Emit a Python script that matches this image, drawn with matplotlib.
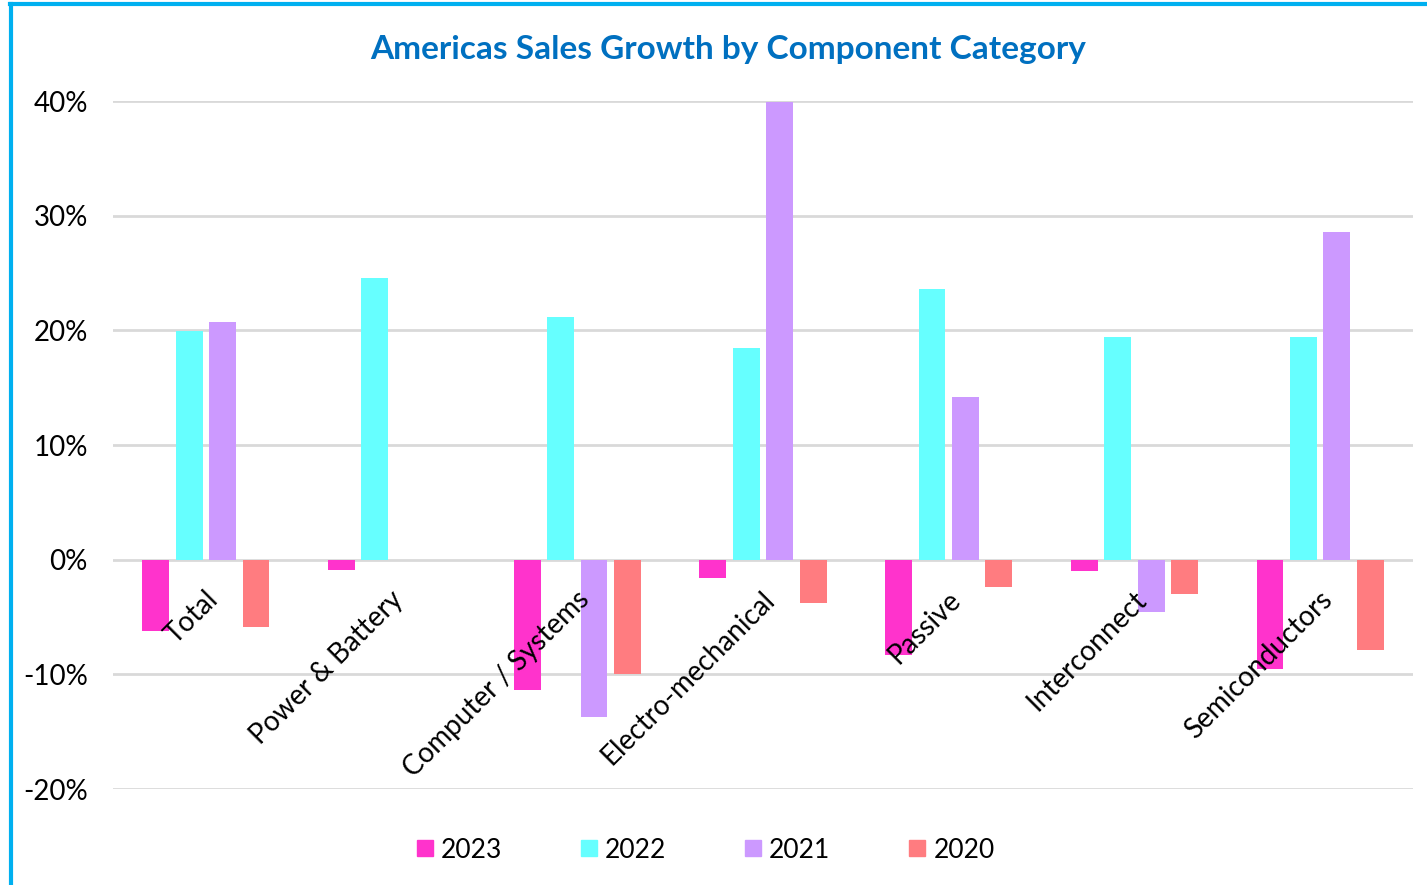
import matplotlib.pyplot as plt
import numpy as np
from matplotlib.lines import Line2D

# data (percent)
categories = ["Total", "Power & Battery", "Computer / Systems", "Electro-mechanical",
              "Passive", "Interconnect", "Semiconductors"]
years = ["2023", "2022", "2021", "2020"]
growth_2023 = [-6.2, -0.9, -11.4, -1.6, -8.3, -1.0, -9.5]
growth_2022 = [19.9, 24.6, 21.2, 18.5, 23.6, 19.4, 19.4]
growth_2021 = [20.7, np.nan, -13.7, 39.9, 14.2, -4.6, 28.6]
growth_2020 = [-5.9, np.nan, -10.0, -3.8, -2.4, -3.0, -7.9]
colors = ["#FF33CC", "#66FFFF", "#CC99FF", "#FF7C80"]

plt.rcParams['font.family'] = ['Lato', 'DejaVu Sans']

fig = plt.figure(figsize=(14.27, 8.85), dpi=100)
ax = fig.add_axes([113 / 1427, 96 / 885, 1300 / 1427, 688 / 885])

x = np.arange(len(categories))
width = 0.145
step = 0.18
series = [growth_2023, growth_2022, growth_2021, growth_2020]
for k, (vals, col, yr) in enumerate(zip(series, colors, years)):
    ax.bar(x + (k - 1.5) * step, vals, width, color=col, label=yr, zorder=3)

ax.set_xlim(-0.5, len(categories) - 0.5)
ax.set_ylim(-20, 40)
ax.set_yticks(range(-20, 41, 10))
ax.set_yticklabels([f"{v}%" for v in range(-20, 41, 10)], fontsize=20)
ax.tick_params(axis='y', length=0, pad=18)
ax.set_xticks([])
ax.grid(axis='y', color="#D9D9D9", linewidth=2, zorder=0)
for s in ax.spines.values():
    s.set_visible(False)

# category labels rotated, anchored near the zero line
for i, cat in enumerate(categories):
    ax.annotate(cat, xy=(i, 0), xytext=(-1, -19), textcoords='offset points',
                ha='right', va='top', rotation=45, rotation_mode='anchor',
                fontsize=20, color="black", zorder=4)

ax.set_title("Americas Sales Growth by Component Category", fontsize=24,
             fontweight='bold', color="#0070C0", pad=30, x=0.473)

handles = [Line2D([0], [0], marker='s', linestyle='', markersize=12,
                  markerfacecolor=c, markeredgecolor=c) for c in colors]
fig.legend(handles, years, loc='center', bbox_to_anchor=(703 / 1427, 1 - 850 / 885),
           ncol=4, frameon=False, fontsize=19, handletextpad=0.1, columnspacing=2.8,
           handlelength=1.0)

# blue frame on the top and left
border = "#00B0F0"
fig.add_artist(Line2D([10 / 1427, 1], [1 - 4 / 885, 1 - 4 / 885], color=border, linewidth=3))
fig.add_artist(Line2D([11 / 1427, 11 / 1427], [0, 1 - 4 / 885], color=border, linewidth=3))

fig.savefig("out.png", dpi=100)
